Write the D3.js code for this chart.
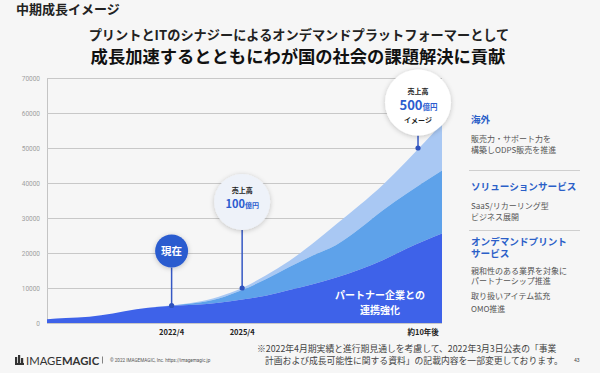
<!DOCTYPE html>
<html>
<head>
<meta charset="utf-8">
<script src="https://cdn.jsdelivr.net/npm/d3@7"></script>
<style>
  html, body { margin: 0; padding: 0; background: #f6f6f6; }
  svg { display: block; font-family: "Noto Sans CJK JP", "Noto Sans", sans-serif; }
</style>
</head>
<body>
<svg id="chart" width="600" height="373"></svg>
<script>
// fiscal periods (year position on the axis) and layer values
var years     = [2016.7, 2017.5, 2018.5, 2019.5, 2020.5, 2021, 2022, 2023, 2024, 2025, 2026, 2027, 2028, 2029, 2030, 2031, 2032, 2033.5];
var partner   = [1050, 1400, 1800, 2750, 3900, 4350, 4950, 5200, 5800, 6700, 7800, 9400, 11100, 13000, 15300, 18000, 21300, 25600];
var solution  = [0, 0, 0, 0, 0, 0, 50, 500, 1200, 2700, 4700, 6600, 8200, 9300, 11700, 14300, 15700, 18000];
var overseas  = [0, 0, 0, 0, 0, 0, 0, 200, 500, 600, 1100, 1700, 3400, 5900, 6700, 7300, 9300, 13500];

var yTicks = [0, 10000, 20000, 30000, 40000, 50000, 60000, 70000];
var xTickYears  = [2022, 2025, 2032.7];
var xTickLabels = ["2022/4", "2025/4", "約10年後"];

var markerYears  = [2022, 2025, 2032.48];
var markerValues = [5000, 10000, 50000];

var layerKeys   = ["partner", "solution", "overseas"];
var layerColors = ["#3e62e9", "#5ea2ea", "#a9c8f3"];

var svg = d3.select("#chart");

var x = d3.scaleLinear().domain([2016.7, 2033.5]).range([47, 442]);
var y = d3.scaleLinear().domain([0, 70000]).range([323, 78]);

var defs = svg.append("defs");
var shadow = defs.append("filter").attr("id", "shadow")
    .attr("x", "-40%").attr("y", "-40%").attr("width", "180%").attr("height", "180%");
shadow.append("feDropShadow")
    .attr("dx", 0).attr("dy", 1)
    .attr("stdDeviation", 2.5)
    .attr("flood-color", "#000")
    .attr("flood-opacity", 0.22);

/* titles */
svg.append("text")
    .attr("x", 16).attr("y", 13.5)
    .attr("font-size", 13).attr("font-weight", "bold").attr("fill", "#222")
    .text("中期成長イメージ");

svg.append("text")
    .attr("x", 299).attr("y", 40)
    .attr("text-anchor", "middle")
    .attr("font-size", 13.2).attr("font-weight", "bold").attr("fill", "#222")
    .text("プリントとITのシナジーによるオンデマンドプラットフォーマーとして");

svg.append("text")
    .attr("x", 298).attr("y", 62.5)
    .attr("text-anchor", "middle")
    .attr("font-size", 17.3).attr("font-weight", "bold").attr("fill", "#111")
    .text("成長加速するとともにわが国の社会の課題解決に貢献");

/* grid + y axis */
var yAxis = svg.append("g")
    .attr("transform", "translate(47,0)")
    .call(d3.axisLeft(y).tickValues(yTicks).tickSize(-(442 - 47)).tickPadding(7).tickFormat(d3.format("d")));
yAxis.select(".domain").attr("stroke", "#c4c4c4");
yAxis.selectAll(".tick line").attr("stroke", "#c8c8c8").attr("stroke-width", 1);
yAxis.selectAll(".tick text")
    .attr("font-size", 6.5).attr("fill", "#a0a0a0")
    .attr("font-family", "Roboto, sans-serif");

/* stacked areas */
var rows = years.map(function (yr, i) {
    return { year: yr, partner: partner[i], solution: solution[i], overseas: overseas[i] };
});
var series = d3.stack().keys(layerKeys)(rows);

var area = d3.area()
    .x(function (d) { return x(d.data.year); })
    .y0(function (d) { return y(d[0]); })
    .y1(function (d) { return y(d[1]); })
    .curve(d3.curveMonotoneX);

svg.append("g").selectAll("path")
    .data(series.slice().reverse())
    .enter().append("path")
    .attr("d", area)
    .attr("fill", function (d) { return layerColors[layerKeys.indexOf(d.key)]; });

/* x tick labels */
svg.append("g").selectAll("text")
    .data(xTickYears)
    .enter().append("text")
    .attr("x", function (d) { return x(d); })
    .attr("y", 335)
    .attr("text-anchor", "middle")
    .attr("font-size", 7.5).attr("font-weight", "bold").attr("fill", "#222")
    .text(function (d, i) { return xTickLabels[i]; });

/* label inside the partner layer */
svg.append("text")
    .attr("x", 380).attr("y", 299)
    .attr("text-anchor", "middle")
    .attr("font-size", 10).attr("font-weight", "bold").attr("fill", "#fff")
    .text("パートナー企業との");
svg.append("text")
    .attr("x", 380).attr("y", 313.5)
    .attr("text-anchor", "middle")
    .attr("font-size", 10).attr("font-weight", "bold").attr("fill", "#fff")
    .text("連携強化");

/* markers: stem + dot + bubble */
var bubbleCy = [251, 202, 102.5];
var bubbleR  = [16.5, 28, 33];
var bubbleFill = ["#2c5ccf", "#eef2f9", "#ffffff"];

var markers = svg.append("g").selectAll("g")
    .data(markerYears)
    .enter().append("g");

markers.append("line")
    .attr("x1", function (d) { return x(d); })
    .attr("x2", function (d) { return x(d); })
    .attr("y1", function (d, i) { return bubbleCy[i] + bubbleR[i]; })
    .attr("y2", function (d, i) { return y(markerValues[i]); })
    .attr("stroke", "#3558c4").attr("stroke-width", 1.5);

markers.append("circle")
    .attr("cx", function (d) { return x(d); })
    .attr("cy", function (d, i) { return y(markerValues[i]); })
    .attr("r", 2.6)
    .attr("fill", "#2f52bd");

markers.append("circle")
    .attr("cx", function (d) { return x(d); })
    .attr("cy", function (d, i) { return bubbleCy[i]; })
    .attr("r", function (d, i) { return bubbleR[i]; })
    .attr("fill", function (d, i) { return bubbleFill[i]; })
    .attr("filter", "url(#shadow)");

var mx = markerYears.map(function (d) { return x(d); });

svg.append("text")
    .attr("x", mx[0]).attr("y", 255)
    .attr("text-anchor", "middle")
    .attr("font-size", 10.5).attr("font-weight", "bold").attr("fill", "#fff")
    .text("現在");

svg.append("text")
    .attr("x", mx[1]).attr("y", 192.5)
    .attr("text-anchor", "middle")
    .attr("font-size", 7).attr("font-weight", "bold").attr("fill", "#222")
    .text("売上高");
var t100 = svg.append("text")
    .attr("x", mx[1]).attr("y", 208)
    .attr("text-anchor", "middle")
    .attr("font-weight", "bold").attr("fill", "#2c5ccf");
t100.append("tspan").attr("font-size", 11).text("100");
t100.append("tspan").attr("font-size", 7).text("億円");

svg.append("text")
    .attr("x", mx[2]).attr("y", 93.5)
    .attr("text-anchor", "middle")
    .attr("font-size", 7).attr("font-weight", "bold").attr("fill", "#222")
    .text("売上高");
var t500 = svg.append("text")
    .attr("x", mx[2] + 0.5).attr("y", 110)
    .attr("text-anchor", "middle")
    .attr("font-weight", "bold").attr("fill", "#2c5ccf");
t500.append("tspan").attr("font-size", 13).text("500");
t500.append("tspan").attr("font-size", 7.5).text("億円");
svg.append("text")
    .attr("x", mx[2]).attr("y", 123)
    .attr("text-anchor", "middle")
    .attr("font-size", 7).attr("font-weight", "bold").attr("fill", "#222")
    .text("イメージ");

/* right-hand notes */
var notes = svg.append("g").attr("transform", "translate(471,0)");
function heading(txt, yy) {
    notes.append("text").attr("x", 0).attr("y", yy)
        .attr("font-size", 9.6).attr("font-weight", "bold").attr("fill", "#2b5fc8")
        .text(txt);
}
function body(txt, yy) {
    notes.append("text").attr("x", 0).attr("y", yy)
        .attr("font-size", 8).attr("fill", "#555")
        .text(txt);
}
heading("海外", 122.5);
body("販売力・サポート力を", 142);
body("構築しODPS販売を推進", 152.5);
notes.append("line").attr("x1", -2).attr("x2", 109).attr("y1", 170.5).attr("y2", 170.5)
    .attr("stroke", "#cfcfcf").attr("stroke-width", 1);
heading("ソリューションサービス", 189.5);
body("SaaS/リカーリング型", 209);
body("ビジネス展開", 219.5);
notes.append("line").attr("x1", -2).attr("x2", 109).attr("y1", 230.5).attr("y2", 230.5)
    .attr("stroke", "#cfcfcf").attr("stroke-width", 1);
heading("オンデマンドプリント", 244.5);
heading("サービス", 256.5);
body("親和性のある業界を対象に", 273.5);
body("パートナーシップ推進", 284);
body("取り扱いアイテム拡充", 298.5);
body("OMO推進", 312);

/* footer */
var logo = svg.append("g").attr("transform", "translate(15,355)");
logo.append("rect").attr("x", 0).attr("y", 2).attr("width", 2.2).attr("height", 8).attr("fill", "#333");
logo.append("rect").attr("x", 3).attr("y", 0).attr("width", 2.2).attr("height", 10).attr("fill", "#333");
logo.append("rect").attr("x", 6).attr("y", 3).attr("width", 2.2).attr("height", 7).attr("fill", "#333");
logo.append("path").attr("d", "M0,10 L9,10 L9,8 L0,8 Z").attr("fill", "#333");
var logoText = svg.append("text")
    .attr("x", 26).attr("y", 364.5)
    .attr("font-family", "Lato, 'Open Sans', sans-serif")
    .attr("font-size", 11.3).attr("fill", "#333");
logoText.append("tspan").attr("font-weight", "normal").text("IMAGE");
logoText.append("tspan").attr("font-weight", "bold").text("MAGIC");

svg.append("line").attr("x1", 102.5).attr("x2", 102.5).attr("y1", 356.5).attr("y2", 363.5)
    .attr("stroke", "#666").attr("stroke-width", 0.8);
svg.append("text")
    .attr("x", 110).attr("y", 362)
    .attr("font-size", 4.6).attr("fill", "#555")
    .attr("font-family", "Roboto, sans-serif")
    .text("© 2022 IMAGEMAGIC, Inc.     https://imagemagic.jp");

svg.append("text")
    .attr("x", 257).attr("y", 352)
    .attr("font-size", 8.8).attr("fill", "#444")
    .text("※2022年4月期実績と進行期見通しを考慮して、2022年3月3日公表の「事業");
svg.append("text")
    .attr("x", 265).attr("y", 364)
    .attr("font-size", 8.8).attr("fill", "#444")
    .text("計画および成長可能性に関する資料」の記載内容を一部変更しております。");
svg.append("text")
    .attr("x", 574).attr("y", 362)
    .attr("font-size", 5).attr("fill", "#444")
    .attr("font-family", "Roboto, sans-serif")
    .text("43");
</script>
</body>
</html>
